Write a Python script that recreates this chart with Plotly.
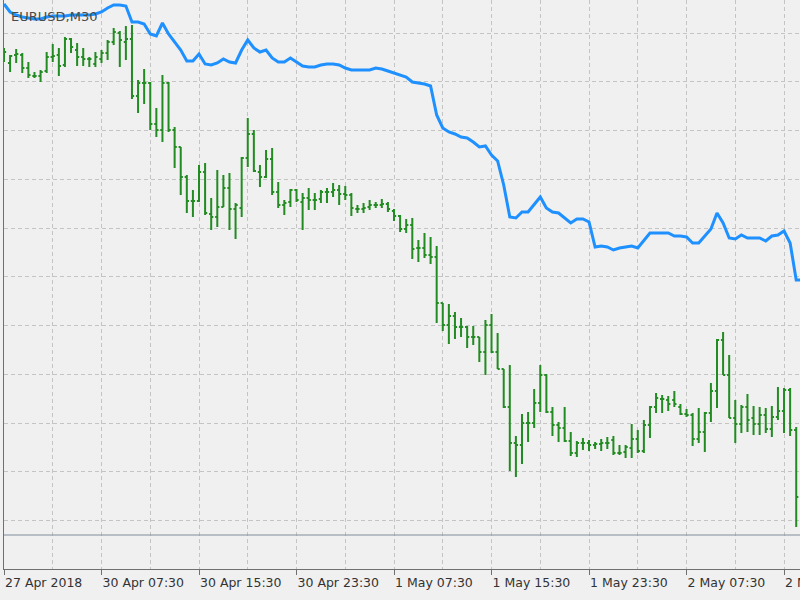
import plotly.graph_objects as go

# ---- data (EURUSD, M30 bars) ----
tick_bars = [0, 16, 32, 48, 64, 80, 96, 112, 128]
tick_labels = ["27 Apr 2018", "30 Apr 07:30", "30 Apr 15:30", "30 Apr 23:30",
               "1 May 07:30", "1 May 15:30", "1 May 23:30", "2 May 07:30", "2 May 15:30"]

open_ = [1.21320, 1.21288, 1.21320, 1.21320, 1.21268, 1.21236, 1.21236, 1.21256, 1.21312, 1.21320,
         1.21280, 1.21384, 1.21340, 1.21312, 1.21304, 1.21284, 1.21304, 1.21328, 1.21372, 1.21408,
         1.21372, 1.21384, 1.21156, 1.21208, 1.21208, 1.21044, 1.21020, 1.21208, 1.21020, 1.20952,
         1.20832, 1.20736, 1.20736, 1.20852, 1.20684, 1.20672, 1.20712, 1.20788, 1.20704, 1.20708,
         1.20908, 1.21004, 1.20852, 1.20832, 1.20904, 1.20772, 1.20720, 1.20732, 1.20780, 1.20732,
         1.20748, 1.20740, 1.20744, 1.20772, 1.20772, 1.20780, 1.20764, 1.20760, 1.20704, 1.20704,
         1.20712, 1.20720, 1.20720, 1.20724, 1.20696, 1.20676, 1.20624, 1.20640, 1.20548, 1.20548,
         1.20520, 1.20512, 1.20328, 1.20240, 1.20276, 1.20232, 1.20232, 1.20192, 1.20192, 1.20132,
         1.20240, 1.20132, 1.20064, 1.19912, 1.19768, 1.19760, 1.19848, 1.19848, 1.19928, 1.20040,
         1.19892, 1.19840, 1.19828, 1.19776, 1.19728, 1.19768, 1.19768, 1.19760, 1.19764, 1.19768,
         1.19780, 1.19728, 1.19732, 1.19748, 1.19784, 1.19736, 1.19840, 1.19912, 1.19944, 1.19940,
         1.19940, 1.19912, 1.19884, 1.19880, 1.19784, 1.19812, 1.19888, 1.19976, 1.20180, 1.20040,
         1.19868, 1.19844, 1.19912, 1.19868, 1.19844, 1.19880, 1.19824, 1.19872, 1.19896, 1.19980,
         1.19820]
high = [1.21348, 1.21320, 1.21344, 1.21328, 1.21292, 1.21252, 1.21260, 1.21332, 1.21364, 1.21348,
        1.21392, 1.21388, 1.21368, 1.21348, 1.21312, 1.21332, 1.21340, 1.21380, 1.21428, 1.21416,
        1.21436, 1.21440, 1.21220, 1.21264, 1.21212, 1.21108, 1.21240, 1.21212, 1.21032, 1.20952,
        1.20840, 1.20780, 1.20880, 1.20888, 1.20748, 1.20860, 1.20840, 1.20848, 1.20728, 1.20912,
        1.21068, 1.21020, 1.20880, 1.20940, 1.20948, 1.20812, 1.20740, 1.20784, 1.20784, 1.20768,
        1.20788, 1.20768, 1.20780, 1.20788, 1.20808, 1.20800, 1.20796, 1.20768, 1.20720, 1.20728,
        1.20740, 1.20732, 1.20744, 1.20732, 1.20704, 1.20680, 1.20664, 1.20668, 1.20580, 1.20608,
        1.20592, 1.20556, 1.20328, 1.20324, 1.20292, 1.20268, 1.20236, 1.20236, 1.20192, 1.20260,
        1.20284, 1.20208, 1.20064, 1.20080, 1.19796, 1.19884, 1.19892, 1.19984, 1.20080, 1.20044,
        1.19912, 1.19852, 1.19912, 1.19812, 1.19776, 1.19788, 1.19780, 1.19772, 1.19784, 1.19792,
        1.19796, 1.19760, 1.19760, 1.19844, 1.19820, 1.19860, 1.19916, 1.19968, 1.19960, 1.19956,
        1.19976, 1.19924, 1.19904, 1.19888, 1.19908, 1.19892, 1.20008, 1.20184, 1.20212, 1.20120,
        1.19940, 1.19920, 1.19964, 1.19916, 1.19912, 1.19908, 1.19916, 1.19992, 1.19988, 1.19988,
        1.19832]
low = [1.21292, 1.21252, 1.21288, 1.21248, 1.21228, 1.21228, 1.21212, 1.21248, 1.21292, 1.21236,
       1.21272, 1.21328, 1.21276, 1.21276, 1.21272, 1.21272, 1.21288, 1.21300, 1.21360, 1.21272,
       1.21300, 1.21144, 1.21088, 1.21124, 1.21020, 1.20992, 1.20972, 1.21012, 1.20868, 1.20760,
       1.20688, 1.20672, 1.20732, 1.20680, 1.20620, 1.20632, 1.20712, 1.20620, 1.20584, 1.20672,
       1.20872, 1.20852, 1.20792, 1.20828, 1.20760, 1.20708, 1.20680, 1.20712, 1.20732, 1.20620,
       1.20700, 1.20700, 1.20728, 1.20728, 1.20752, 1.20720, 1.20740, 1.20676, 1.20688, 1.20688,
       1.20700, 1.20708, 1.20708, 1.20692, 1.20656, 1.20612, 1.20608, 1.20504, 1.20492, 1.20508,
       1.20484, 1.20248, 1.20216, 1.20164, 1.20184, 1.20192, 1.20148, 1.20160, 1.20092, 1.20040,
       1.20128, 1.20064, 1.19908, 1.19656, 1.19632, 1.19684, 1.19772, 1.19828, 1.19892, 1.19888,
       1.19796, 1.19772, 1.19772, 1.19716, 1.19712, 1.19740, 1.19736, 1.19744, 1.19736, 1.19744,
       1.19720, 1.19720, 1.19708, 1.19708, 1.19728, 1.19728, 1.19788, 1.19888, 1.19888, 1.19896,
       1.19912, 1.19880, 1.19872, 1.19756, 1.19768, 1.19732, 1.19852, 1.19908, 1.20040, 1.19868,
       1.19768, 1.19808, 1.19812, 1.19800, 1.19800, 1.19808, 1.19792, 1.19860, 1.19808, 1.19796,
       1.19432]
close = [1.21332, 1.21316, 1.21324, 1.21268, 1.21240, 1.21236, 1.21252, 1.21312, 1.21316, 1.21276,
         1.21384, 1.21352, 1.21312, 1.21304, 1.21304, 1.21312, 1.21328, 1.21372, 1.21412, 1.21380,
         1.21384, 1.21156, 1.21208, 1.21208, 1.21044, 1.21020, 1.21208, 1.21020, 1.20952, 1.20832,
         1.20736, 1.20736, 1.20852, 1.20688, 1.20672, 1.20712, 1.20788, 1.20704, 1.20720, 1.20908,
         1.21004, 1.20856, 1.20832, 1.20904, 1.20772, 1.20720, 1.20728, 1.20780, 1.20740, 1.20748,
         1.20740, 1.20740, 1.20772, 1.20772, 1.20780, 1.20764, 1.20760, 1.20708, 1.20704, 1.20708,
         1.20720, 1.20720, 1.20724, 1.20704, 1.20676, 1.20624, 1.20640, 1.20544, 1.20548, 1.20520,
         1.20512, 1.20328, 1.20240, 1.20276, 1.20232, 1.20232, 1.20192, 1.20192, 1.20132, 1.20240,
         1.20132, 1.20064, 1.19912, 1.19768, 1.19760, 1.19848, 1.19848, 1.19928, 1.20040, 1.19892,
         1.19840, 1.19828, 1.19776, 1.19728, 1.19768, 1.19768, 1.19760, 1.19764, 1.19768, 1.19768,
         1.19728, 1.19728, 1.19752, 1.19784, 1.19736, 1.19840, 1.19912, 1.19948, 1.19944, 1.19924,
         1.19924, 1.19884, 1.19880, 1.19784, 1.19812, 1.19888, 1.19976, 1.20180, 1.20040, 1.19868,
         1.19844, 1.19912, 1.19860, 1.19844, 1.19880, 1.19824, 1.19872, 1.19896, 1.19980, 1.19820,
         1.19552]

# blue indicator line (one value per bar, last one continues past the window edge)
indicator = [1.21524, 1.21492, 1.21480, 1.21472, 1.21468, 1.21464, 1.21464, 1.21472, 1.21476, 1.21476,
             1.21476, 1.21480, 1.21480, 1.21480, 1.21480, 1.21484, 1.21492, 1.21508, 1.21520, 1.21520,
             1.21516, 1.21452, 1.21452, 1.21444, 1.21404, 1.21396, 1.21448, 1.21404, 1.21372, 1.21340,
             1.21296, 1.21296, 1.21324, 1.21284, 1.21280, 1.21288, 1.21304, 1.21292, 1.21288, 1.21340,
             1.21380, 1.21348, 1.21332, 1.21340, 1.21308, 1.21292, 1.21292, 1.21308, 1.21292, 1.21276,
             1.21272, 1.21272, 1.21280, 1.21284, 1.21284, 1.21280, 1.21268, 1.21260, 1.21260, 1.21260,
             1.21260, 1.21268, 1.21264, 1.21256, 1.21248, 1.21240, 1.21232, 1.21212, 1.21208, 1.21204,
             1.21196, 1.21080, 1.21028, 1.21012, 1.21004, 1.20992, 1.20988, 1.20972, 1.20952, 1.20956,
             1.20920, 1.20896, 1.20800, 1.20672, 1.20668, 1.20692, 1.20692, 1.20724, 1.20752, 1.20708,
             1.20692, 1.20688, 1.20668, 1.20648, 1.20664, 1.20664, 1.20652, 1.20552, 1.20556, 1.20552,
             1.20540, 1.20548, 1.20552, 1.20556, 1.20548, 1.20580, 1.20608, 1.20608, 1.20608, 1.20608,
             1.20596, 1.20596, 1.20592, 1.20568, 1.20568, 1.20596, 1.20624, 1.20688, 1.20648, 1.20588,
             1.20584, 1.20600, 1.20588, 1.20588, 1.20588, 1.20576, 1.20596, 1.20600, 1.20616, 1.20568,
             1.20420, 1.20420]

hline_price = 1.19400
symbol_label = "EURUSD,M30"

# ---- styling ----
BG = "#F0F0F0"
GREEN = "#228B22"
BLUE = "#1E90FF"
GRID = "#C4C4C4"
FRAME = "#707070"
FONT = "DejaVu Sans"

bars = list(range(len(open_)))
ind_x = list(range(len(indicator)))

fig = go.Figure()
fig.add_trace(go.Ohlc(
    x=bars, open=open_, high=high, low=low, close=close,
    increasing=dict(line=dict(color=GREEN, width=2)),
    decreasing=dict(line=dict(color=GREEN, width=2)),
    tickwidth=0.35, hoverinfo="skip", showlegend=False,
))
fig.add_trace(go.Scatter(
    x=ind_x, y=indicator, mode="lines",
    line=dict(color=BLUE, width=3), hoverinfo="skip", showlegend=False,
))

fig.add_shape(type="line", xref="paper", x0=0, x1=1, yref="y",
              y0=hline_price, y1=hline_price, line=dict(color="#7F8C9C", width=1))

fig.add_annotation(text=symbol_label, xref="paper", yref="paper", x=0, y=1,
                   xanchor="left", yanchor="top", xshift=5, yshift=-7,
                   showarrow=False, font=dict(family=FONT, size=13, color="#4A4A4A"))

fig.update_layout(
    width=800, height=600,
    margin=dict(l=4, r=0, t=0, b=31, autoexpand=False),
    paper_bgcolor=BG, plot_bgcolor=BG,
    showlegend=False,
    xaxis=dict(
        range=[0, 130.62],
        rangeslider=dict(visible=False),
        tickmode="array", tickvals=tick_bars, ticktext=tick_labels,
        tickangle=0, automargin=False,
        ticks="outside", ticklen=5, tickcolor=FRAME, tickwidth=1,
        ticklabelposition="outside right", ticklabeloverflow="allow",
        ticklabelstandoff=2,
        tickfont=dict(family=FONT, size=12.5, color="#333333"),
        showline=True, linecolor=FRAME, linewidth=1,
        showgrid=True, gridcolor=GRID, griddash="4px,3px", gridwidth=1,
        minor=dict(tickmode="linear", tick0=0, dtick=8, showgrid=True,
                   gridcolor=GRID, griddash="4px,3px", gridwidth=1, ticks=""),
        zeroline=False, fixedrange=True,
    ),
    yaxis=dict(
        range=[1.19264, 1.21540], automargin=False,
        tickmode="linear", tick0=1.21408, dtick=0.00195,
        showticklabels=False, ticks="",
        showline=True, linecolor=FRAME, linewidth=1,
        showgrid=True, gridcolor=GRID, griddash="4px,3px", gridwidth=1,
        zeroline=False, fixedrange=True,
    ),
)

fig.write_html("out.html")
